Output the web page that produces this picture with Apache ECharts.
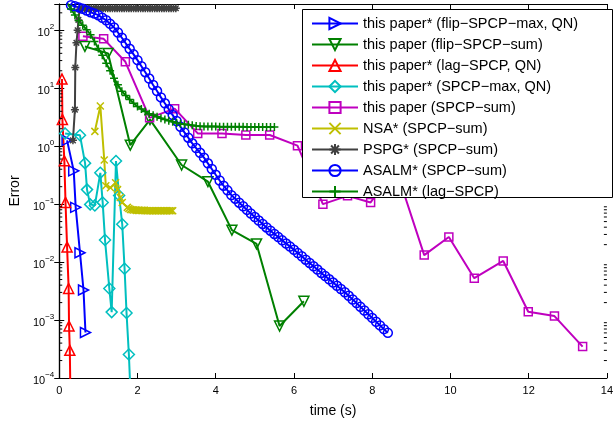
<!DOCTYPE html>
<html>
<head>
<meta charset="utf-8">
<script src="https://cdn.jsdelivr.net/npm/echarts@6/dist/echarts.min.js"></script>
<style>html,body{margin:0;padding:0;background:#fff}#c{width:616px;height:423px}</style>
</head>
<body>
<div id="c"></div>
<script>
// ---------- data ----------
const seriesNames = [
  'this paper* (flip\u2212SPCP\u2212max, QN)',
  'this paper (flip\u2212SPCP\u2212sum)',
  'this paper* (lag\u2212SPCP, QN)',
  'this paper* (SPCP\u2212max, QN)',
  'this paper (SPCP\u2212sum)',
  'NSA* (SPCP\u2212sum)',
  'PSPG* (SPCP\u2212sum)',
  'ASALM* (SPCP\u2212sum)',
  'ASALM* (lag\u2212SPCP)'
];
const xTicks = [0, 2, 4, 6, 8, 10, 12, 14];

const flipMaxX = [0.20, 0.37, 0.42, 0.53, 0.62, 0.67];
const flipMaxY = [1.26, 0.375, 0.088, 0.0145, 0.0033, 0.00061];

const flipSumX = [0.656, 1.248, 1.816, 2.320, 3.127, 3.801, 4.414, 5.044, 5.632, 6.254];
const flipSumY = [52.6, 39.9, 1.04, 2.88, 0.474, 0.244, 0.0356, 0.0206, 0.00079, 0.00211];

const lagQNX = [0.07, 0.08, 0.13, 0.16, 0.20, 0.24, 0.25, 0.27, 0.29];
const lagQNY = [14.4, 2.9, 0.56, 0.107, 0.0183, 0.0035, 0.00079, 0.0003, 0.00003];

const spcpMaxX = [0.15, 0.53, 0.66, 0.71, 0.79, 0.91, 1.05, 1.11, 1.17, 1.28, 1.34, 1.45, 1.53, 1.61, 1.67, 1.72, 1.78, 1.84];
const spcpMaxY = [1.66, 1.54, 0.51, 0.178, 0.099, 0.095, 0.347, 0.107, 0.024, 0.0035, 0.00137, 0.555, 0.141, 0.045, 0.0077, 0.00132, 0.000255, 0.000027];

const spcpSumX = [0.605, 1.135, 1.69, 2.31, 2.95, 3.54, 4.16, 4.77, 5.38, 6.09, 6.74, 7.37, 7.96, 8.60, 9.33, 9.96, 10.61, 11.35, 11.99, 12.66, 13.38];
const spcpSumY = [78.7, 71.1, 28.6, 3.08, 4.44, 1.66, 1.66, 1.56, 1.56, 1.02, 0.100, 0.139, 0.107, 0.42, 0.0132, 0.0271, 0.00527, 0.01045, 0.00139, 0.00117, 0.000348];

const nsaX = [0.91, 1.05, 1.15, 1.19, 1.31, 1.44, 1.49, 1.56, 1.61, 1.74, 1.78, 1.82, 1.86, 1.90, 1.94, 1.98, 2.02, 2.06, 2.10, 2.14, 2.18, 2.22, 2.26, 2.30, 2.34, 2.38, 2.42, 2.46, 2.50, 2.54, 2.58, 2.62, 2.66, 2.70, 2.74, 2.78, 2.82, 2.86, 2.90];
const nsaY = [1.80, 4.93, 0.578, 0.208, 0.192, 0.234, 0.178, 0.130, 0.107, 0.088, 0.084, 0.081, 0.080, 0.079, 0.079, 0.078, 0.078, 0.078, 0.078, 0.078, 0.078, 0.077, 0.077, 0.077, 0.077, 0.077, 0.077, 0.077, 0.077, 0.077, 0.077, 0.077, 0.077, 0.077, 0.077, 0.077, 0.077, 0.077, 0.077];

const pspgX = [0.35, 0.40, 0.41, 0.44, 0.47, 0.49, 0.52, 0.58, 0.64, 0.70, 0.76, 0.82, 0.88, 0.94, 1.00, 1.06, 1.12, 1.18, 1.24, 1.30, 1.36, 1.42, 1.48, 1.54, 1.60, 1.66, 1.72, 1.78, 1.84, 1.90, 1.96, 2.02, 2.08, 2.14, 2.20, 2.26, 2.32, 2.38, 2.44, 2.50, 2.56, 2.62, 2.68, 2.74, 2.80, 2.86, 2.92, 2.98];
const pspgY = [1.26, 4.27, 22.8, 60.8, 100, 151, 230, 240, 240, 240, 240, 240, 240, 240, 240, 240, 240, 240, 240, 240, 240, 240, 240, 240, 240, 240, 240, 240, 240, 240, 240, 240, 240, 240, 240, 240, 240, 240, 240, 240, 240, 240, 240, 240, 240, 240, 240, 240];

const asalmSumX = [0.3, 0.4, 0.5, 0.6, 0.7, 0.8, 0.9, 1.0, 1.1, 1.2, 1.3, 1.4, 1.5, 1.6, 1.7, 1.8, 1.9, 2.0, 2.1, 2.2, 2.3, 2.4, 2.5, 2.6, 2.7, 2.8, 2.9, 3.0, 3.1, 3.2, 3.3, 3.4, 3.5, 3.6, 3.7, 3.8, 3.9, 4.0, 4.1, 4.2, 4.3, 4.4, 4.5, 4.6, 4.7, 4.8, 4.9, 5.0, 5.1, 5.2, 5.3, 5.4, 5.5, 5.6, 5.7, 5.8, 5.9, 6.0, 6.1, 6.2, 6.3, 6.4, 6.5, 6.6, 6.7, 6.8, 6.9, 7.0, 7.1, 7.2, 7.3, 7.4, 7.5, 7.6, 7.7, 7.8, 7.9, 8.0, 8.1, 8.2, 8.3, 8.4];
const asalmSumY = [270, 259, 248, 235, 219, 205, 194, 182, 164, 149, 129, 112, 91.6, 74.3, 59.6, 47.9, 38.4, 30.5, 24.0, 18.9, 14.7, 11.4, 8.93, 6.95, 5.49, 4.35, 3.44, 2.72, 2.16, 1.73, 1.40, 1.12, 0.929, 0.769, 0.634, 0.506, 0.404, 0.321, 0.256, 0.208, 0.173, 0.143, 0.124, 0.106, 0.092, 0.0796, 0.0686, 0.0598, 0.0521, 0.0455, 0.0396, 0.0348, 0.0306, 0.027, 0.0237, 0.0209, 0.0185, 0.0163, 0.0143, 0.0126, 0.0110, 0.00966, 0.00848, 0.00743, 0.0065, 0.00573, 0.00504, 0.00443, 0.0039, 0.00343, 0.00302, 0.00262, 0.00226, 0.00196, 0.00169, 0.00146, 0.00126, 0.00109, 0.000935, 0.000809, 0.000697, 0.000601];

const asalmLagX = [0.2, 0.3, 0.4, 0.5, 0.6, 0.7, 0.8, 0.9, 1.0, 1.1, 1.2, 1.3, 1.4, 1.5, 1.6, 1.7, 1.8, 1.9, 2.0, 2.1, 2.2, 2.3, 2.4, 2.5, 2.6, 2.7, 2.8, 2.9, 3.0, 3.1, 3.2, 3.3, 3.4, 3.5, 3.6, 3.7, 3.8, 3.9, 4.0, 4.1, 4.2, 4.3, 4.4, 4.5, 4.6, 4.7, 4.8, 4.9, 5.0, 5.1, 5.2, 5.3, 5.4, 5.5];
const asalmLagY = [295, 233, 183, 146, 122, 102, 83.8, 63.7, 48.6, 36.9, 27.1, 20.0, 14.9, 11.5, 8.9, 7.48, 6.4, 5.49, 4.82, 4.38, 3.96, 3.62, 3.41, 3.22, 3.03, 2.9, 2.76, 2.64, 2.51, 2.44, 2.39, 2.34, 2.30, 2.24, 2.21, 2.19, 2.19, 2.18, 2.18, 2.17, 2.17, 2.17, 2.16, 2.16, 2.16, 2.16, 2.15, 2.15, 2.15, 2.15, 2.15, 2.15, 2.14, 2.14];

// ---------- chart ----------
const Y_MIN = 1e-4, Y_MAX = 284;
const FONT = '"Liberation Sans", Arial, Helvetica, sans-serif';
const zip = (xs, ys) => xs.map((x, i) => [x, ys[i]]);

const P_X = 'path://M0,0L10,10M10,0L0,10';
const P_PLUS = 'path://M5,0L5,10M0,5L10,5';
const P_STAR = 'path://M5,0L5,10M0,5L10,5M1.5,1.5L8.5,8.5M8.5,1.5L1.5,8.5';

function mk(name, xs, ys, color, symbol, size, rot) {
  return {
    name: name, type: 'line', data: zip(xs, ys),
    xAxisIndex: 0, yAxisIndex: 0,
    symbol: symbol, symbolSize: size, symbolRotate: rot || 0, showSymbol: true,
    color: color,
    lineStyle: { color: color, width: 2 },
    itemStyle: { color: 'rgba(0,0,0,0)', borderColor: color, borderWidth: 1.5 },
    clip: true, animation: false, z: 2
  };
}

const minorVals = [];
for (let k = -4; k <= 2; k++) {
  for (let m = 2; m <= 9; m++) {
    const v = m * Math.pow(10, k);
    if (v < Y_MAX) minorVals.push(v);
  }
}

const chart = echarts.init(document.getElementById('c'), null, { renderer: 'canvas' });
const supMinus = s => String(s).replace('-', '\u2212');

const option = {
  backgroundColor: '#fff',
  animation: false,
  textStyle: { fontFamily: FONT },
  grid: { left: 56, right: 4, top: 4, bottom: 40, containLabel: false },
  xAxis: [{
    type: 'value', min: 0, max: 14, interval: 2, position: 'bottom',
    name: 'time (s)', nameLocation: 'middle', nameGap: 26,
    nameTextStyle: { fontSize: 14, color: '#000', fontFamily: FONT },
    axisLine: { show: true, lineStyle: { color: '#000', width: 1.2 } },
    axisTick: { show: true, inside: true, length: 5, lineStyle: { color: '#000' } },
    axisLabel: { color: '#000', fontSize: 11, margin: 7, fontFamily: FONT,
      formatter: v => (xTicks.indexOf(v) >= 0 ? String(v) : '') },
    splitLine: { show: false }
  }, {
    type: 'value', min: 0, max: 14, interval: 2, position: 'top',
    axisLine: { show: true, onZero: false, lineStyle: { color: '#000', width: 1.2 } },
    axisTick: { show: true, inside: true, length: 5, lineStyle: { color: '#000' } },
    axisLabel: { show: false }, splitLine: { show: false }
  }],
  yAxis: [{
    type: 'log', logBase: 10, min: Y_MIN, max: Y_MAX, interval: 1, position: 'left',
    name: 'Error', nameLocation: 'middle', nameGap: 36, nameRotate: 90,
    nameTextStyle: { fontSize: 14, color: '#000', fontFamily: FONT },
    axisLine: { show: true, lineStyle: { color: '#000', width: 1.2 } },
    axisTick: { show: true, inside: true, length: 5, lineStyle: { color: '#000' } },
    axisLabel: {
      color: '#000', margin: 5, showMaxLabel: false,
      formatter: function (v) {
        const e = Math.log10(v); const r = Math.round(e);
        if (Math.abs(e - r) > 1e-6) return '';
        return '{b|10}{s|' + supMinus(r) + '}';
      },
      rich: {
        b: { fontSize: 11, fontFamily: FONT, color: '#000', padding: [6, 0, 0, 0] },
        s: { fontSize: 8, fontFamily: FONT, color: '#000', padding: [0, 0, 6, 0] }
      }
    },
    splitLine: { show: false }
  }, {
    type: 'log', logBase: 10, min: Y_MIN, max: Y_MAX, interval: 1, position: 'right',
    axisLine: { show: true, lineStyle: { color: '#000', width: 1.2 } },
    axisTick: { show: true, inside: true, length: 5, lineStyle: { color: '#000' } },
    axisLabel: { show: false }, splitLine: { show: false }
  }],
  legend: {
    data: seriesNames, orient: 'vertical', left: 302, top: 9,
    padding: [7, 10, 6, 9], itemGap: 6, itemWidth: 46, itemHeight: 14,
    textStyle: { fontSize: 14.5, color: '#000', fontFamily: FONT, lineHeight: 14 },
    backgroundColor: 'rgba(0,0,0,0)', borderWidth: 0, z: 10, selectedMode: false
  },
  graphic: [{
    type: 'rect', shape: { x: 302.5, y: 9.5, width: 310, height: 188 },
    style: { fill: '#fff', stroke: '#000', lineWidth: 1 }, z: 9, zlevel: 0
  }],
  series: [
    mk(seriesNames[0], flipMaxX, flipMaxY, '#0000ff', 'triangle', 10, -90),
    mk(seriesNames[1], flipSumX, flipSumY, '#008000', 'triangle', 10, 180),
    mk(seriesNames[2], lagQNX, lagQNY, '#ff0000', 'triangle', 10, 0),
    mk(seriesNames[3], spcpMaxX, spcpMaxY, '#00bfbf', 'diamond', 11, 0),
    mk(seriesNames[4], spcpSumX, spcpSumY, '#bf00bf', 'rect', 8, 0),
    mk(seriesNames[5], nsaX, nsaY, '#bfbf00', P_X, 7, 0),
    mk(seriesNames[6], pspgX, pspgY, '#404040', P_STAR, 8, 0),
    mk(seriesNames[7], asalmSumX, asalmSumY, '#0000ff', 'circle', 9, 0),
    mk(seriesNames[8], asalmLagX, asalmLagY, '#008000', P_PLUS, 8, 0),
    {
      type: 'custom', xAxisIndex: 0, yAxisIndex: 0, silent: true, z: 3,
      data: minorVals.map(v => [0, v]),
      renderItem: function (params, api) {
        const v = api.value(1);
        const a = api.coord([0, v]);
        const b = api.coord([14, v]);
        return { type: 'group', children: [
          { type: 'line', shape: { x1: a[0], y1: a[1], x2: a[0] + 3, y2: a[1] }, style: { stroke: '#000', lineWidth: 1 } },
          { type: 'line', shape: { x1: b[0] - 3, y1: b[1], x2: b[0], y2: b[1] }, style: { stroke: '#000', lineWidth: 1 } }
        ] };
      }
    }
  ]
};
chart.setOption(option);
</script>
</body>
</html>
